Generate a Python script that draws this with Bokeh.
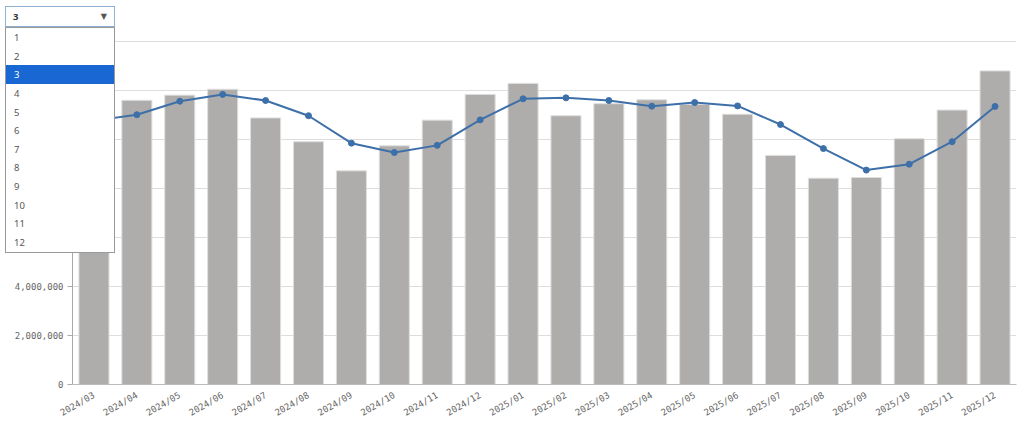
from bokeh.plotting import figure
from bokeh.models import (ColumnDataSource, Range1d, FactorRange, NumeralTickFormatter,
                          SingleIntervalTicker, Div)
from bokeh.layouts import column
from bokeh.embed import file_html
from bokeh.resources import INLINE
import math

months = ["2024/03", "2024/04", "2024/05", "2024/06", "2024/07", "2024/08", "2024/09",
          "2024/10", "2024/11", "2024/12", "2025/01", "2025/02", "2025/03", "2025/04",
          "2025/05", "2025/06", "2025/07", "2025/08", "2025/09", "2025/10", "2025/11",
          "2025/12"]
sales = [11270000, 11600000, 11810000, 12050000, 10880000, 9910000, 8720000,
         9740000, 10790000, 11840000, 12290000, 10970000, 11460000, 11620000,
         11430000, 11030000, 9350000, 8420000, 8450000, 10030000, 11200000,
         12800000]
moving_avg = [10770000, 11010000, 11560000, 11840000, 11590000, 10970000, 9850000,
              9470000, 9760000, 10800000, 11660000, 11700000, 11590000, 11360000,
              11510000, 11370000, 10610000, 9630000, 8750000, 8990000, 9910000,
              11350000]
window_options = ["1", "2", "3", "4", "5", "6", "7", "8", "9", "10", "11", "12"]
selected_window = "3"

src = ColumnDataSource(dict(month=months, sales=sales, ma=moving_avg))

p = figure(width=1024, height=425, output_backend="svg", toolbar_location=None,
           x_range=FactorRange(*months), y_range=Range1d(0, 14040000),
           min_border_left=72, min_border_right=8, min_border_top=40, min_border_bottom=0)
p.outline_line_color = None
p.background_fill_color = "white"

p.vbar(x="month", top="sales", width=0.7, source=src, fill_color="#AFADAB",
       line_color="#DEDEDE", line_width=1)
p.line(x="month", y="ma", source=src, line_color="#3D6FA9", line_width=2)
p.scatter(x="month", y="ma", source=src, size=6, fill_color="#3D6FA9",
          line_color="#3D6FA9")

# axes
p.xgrid.grid_line_color = None
p.ygrid.grid_line_color = "#DDDDDD"
p.yaxis.ticker = SingleIntervalTicker(interval=2000000, num_minor_ticks=0)
p.yaxis.formatter = NumeralTickFormatter(format="0,0")
for ax in (p.xaxis[0], p.yaxis[0]):
    ax.major_label_text_font = "DejaVu Sans Mono"
    ax.major_label_text_font_size = "9px"
    ax.major_label_text_color = "#666666"
    ax.axis_line_color = "#AAAAAA"
    ax.minor_tick_line_color = None
p.yaxis.major_tick_line_color = "#AAAAAA"
p.yaxis.major_tick_out = 5
p.yaxis.major_tick_in = 0
p.yaxis.major_label_standoff = 4
p.xaxis.major_tick_line_color = None
p.xaxis.major_label_orientation = math.radians(30)
p.xaxis.major_label_standoff = 4
p.xaxis.axis_line_color = "#BBBBBB"

# dropdown (window size selector), shown opened over the chart
item_h = 18.65
items_html = ""
for opt in window_options:
    sel = opt == selected_window
    items_html += (
        f'<div style="box-sizing:border-box;height:{item_h}px;line-height:{item_h + 2}px;'
        f'padding-left:8px;background:{"#1967D2" if sel else "#FFFFFF"};'
        f'color:{"#FFFFFF" if sel else "#555555"};">{opt}</div>'
    )
dropdown_html = (
    '<div style="position:relative;width:110px;height:247px;'
    "font-family:'Noto Sans',sans-serif;font-size:9.5px;\">"
    '<div style="position:absolute;box-sizing:border-box;left:0;top:0;width:110px;height:21px;'
    'border:1px solid #8FB2D0;background:#FFFFFF;">'
    '<span style="position:absolute;left:7px;top:0;line-height:20px;font-weight:bold;'
    f'color:#333333;">{selected_window}</span>'
    '<span style="position:absolute;right:7px;top:0;line-height:19px;font-size:8px;'
    "color:#555555;font-family:'DejaVu Sans';\">&#9660;</span>"
    '</div>'
    '<div style="position:absolute;box-sizing:border-box;left:0;top:21px;width:110px;height:226px;'
    'border:1px solid #999999;background:#FFFFFF;overflow:hidden;">'
    + items_html +
    '</div></div>'
)
dropdown = Div(text=dropdown_html, width=110, height=247, margin=0,
               styles={"position": "absolute", "left": "5px", "top": "6px", "z-index": "10"})

layout = column(p, dropdown)
open("out.html", "w").write(file_html(layout, INLINE))
